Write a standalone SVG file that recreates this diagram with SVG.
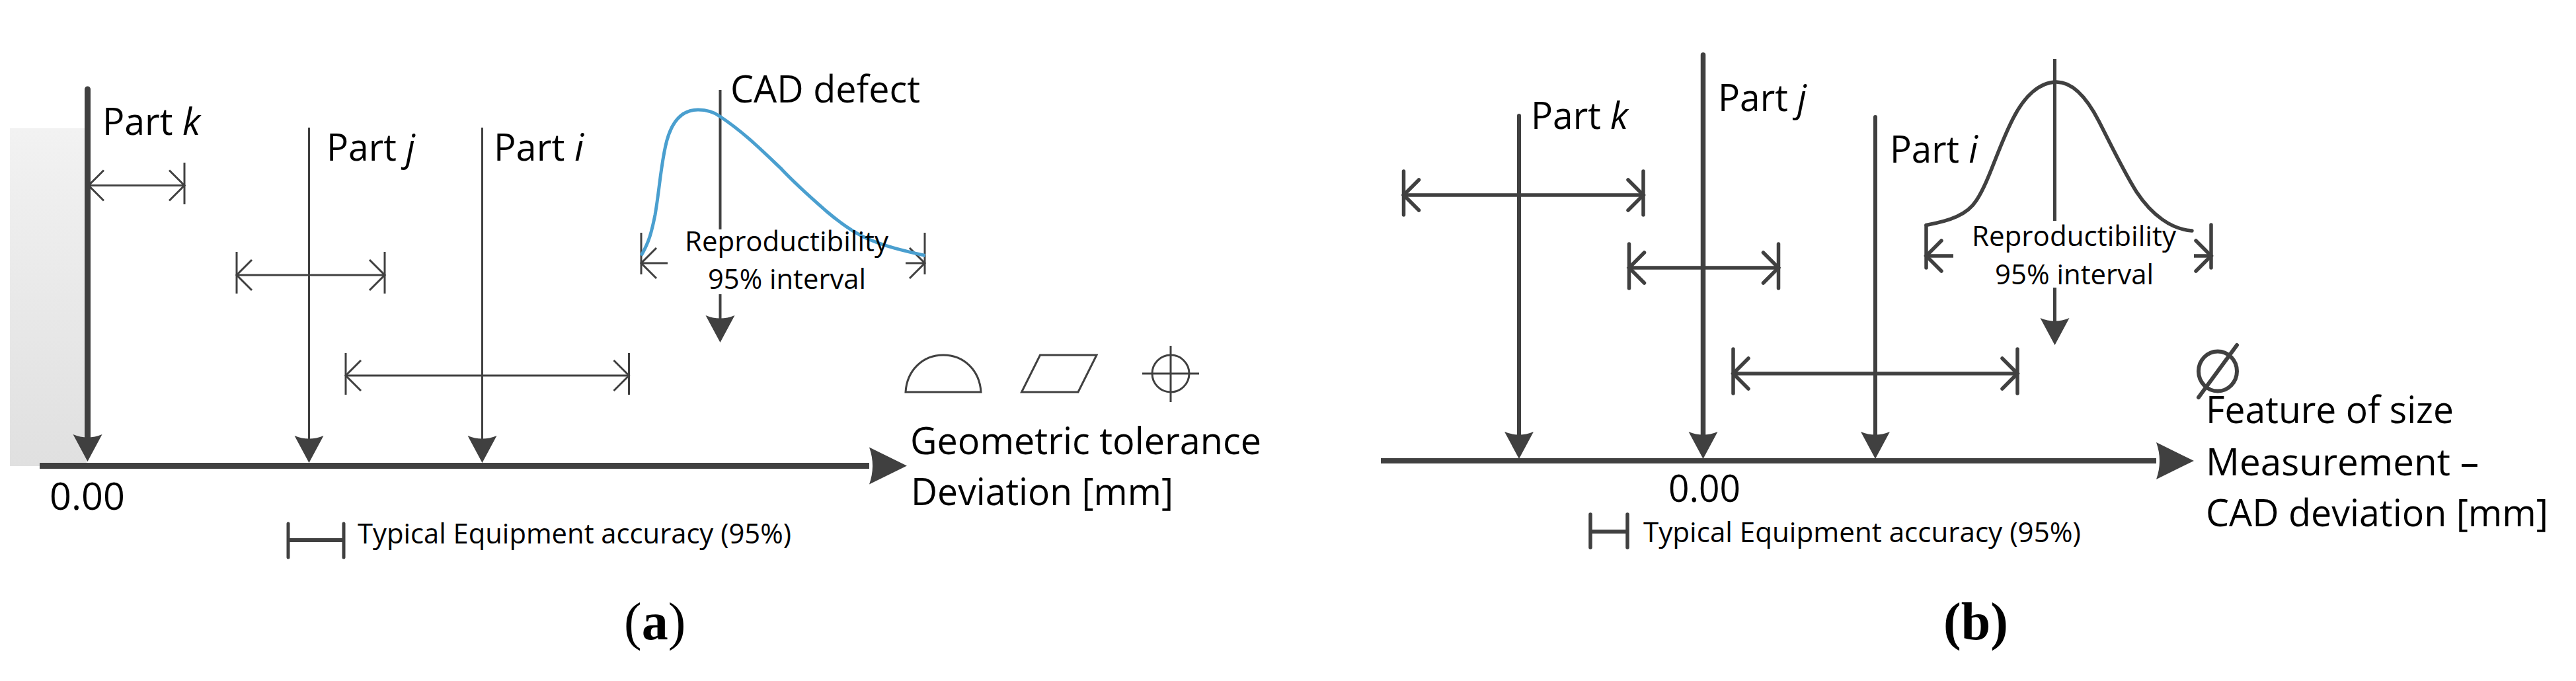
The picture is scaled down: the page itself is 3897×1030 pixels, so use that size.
<svg xmlns="http://www.w3.org/2000/svg" width="3897" height="1030" viewBox="0 0 3897 1030">
<defs>
<linearGradient id="shade" x1="0" y1="0" x2="0" y2="1"><stop offset="0" stop-color="#f2f2f2"/><stop offset="1" stop-color="#e0e0e0"/></linearGradient>
<marker id="head" markerUnits="userSpaceOnUse" markerWidth="60" markerHeight="60" refX="20" refY="30" orient="auto" overflow="visible"><path d="M40,30 L-1,8 Q8,30 -1,52 Z" fill="#404040"/></marker>
<marker id="headBig" markerUnits="userSpaceOnUse" markerWidth="80" markerHeight="80" refX="20" refY="40" orient="auto" overflow="visible"><path d="M77,40 L20,12 Q30,40 20,68 Z" fill="#404040"/></marker>
<marker id="open" markerUnits="userSpaceOnUse" markerWidth="60" markerHeight="60" refX="30" refY="30" orient="auto-start-reverse" overflow="visible"><path d="M7,7 L30,30 L7,53" fill="none" stroke="#404040" stroke-width="3"/></marker>
<marker id="openB" markerUnits="userSpaceOnUse" markerWidth="60" markerHeight="60" refX="30" refY="30" orient="auto-start-reverse" overflow="visible"><path d="M7,7 L30,30 L7,53" fill="none" stroke="#404040" stroke-width="5.5" stroke-linecap="round"/></marker>
</defs>
<style>
text{font-family:"Open Sans","Noto Sans",sans-serif;fill:#000}
.l{font-size:56px}.s{font-size:42px}
.cap{font-family:"Liberation Serif",serif;font-size:80px}
.b{font-weight:bold}
line{stroke:#404040;fill:none}
.sym{stroke:#404040;fill:none;stroke-width:3}
.t{stroke-width:3}.tb{stroke-width:5.5;stroke-linecap:round}
.d{stroke-width:3;marker-start:url(#open);marker-end:url(#open)}
.db{stroke-width:5.5;marker-start:url(#openB);marker-end:url(#openB)}
</style>

<g id="panel-a">
<rect id="limit-zone" x="15" y="194" width="116" height="511" fill="url(#shade)"/>
<g id="a-connectors">
<line x1="60" y1="704.5" x2="1315" y2="704.5" stroke-width="9" marker-end="url(#headBig)"/>
<line x1="132.5" y1="135" x2="132.5" y2="678" stroke-width="9" stroke-linecap="round" marker-end="url(#head)"/>
<line x1="467.5" y1="193" x2="467.5" y2="680" stroke-width="3" marker-end="url(#head)"/>
<line x1="729.5" y1="193" x2="729.5" y2="680" stroke-width="3" marker-end="url(#head)"/>
<line x1="1089.5" y1="136" x2="1089.5" y2="347" stroke-width="4"/>
<line x1="1089.5" y1="445" x2="1089.5" y2="498" stroke-width="4" marker-end="url(#head)"/>
<line class="d" x1="134" y1="280.5" x2="279" y2="280.5"/><line class="t" x1="279" y1="246" x2="279" y2="309"/>
<line class="d" x1="358" y1="416" x2="582" y2="416"/><line class="t" x1="358" y1="381" x2="358" y2="444"/><line class="t" x1="582" y1="381" x2="582" y2="444"/>
<line class="d" x1="523" y1="568" x2="951.5" y2="568"/><line class="t" x1="523" y1="534" x2="523" y2="597"/><line class="t" x1="951.5" y1="534" x2="951.5" y2="597"/>
<line class="t" x1="970" y1="398" x2="1010" y2="398" marker-start="url(#open)"/><line class="t" x1="970" y1="352" x2="970" y2="415"/>
<line class="t" x1="1370" y1="398" x2="1399" y2="398" marker-end="url(#open)"/><line class="t" x1="1399" y1="352" x2="1399" y2="415"/>
<line x1="436" y1="792" x2="436" y2="843" stroke-width="5" stroke-linecap="round"/><line x1="520" y1="792" x2="520" y2="843" stroke-width="5" stroke-linecap="round"/><line x1="436" y1="817" x2="520" y2="817" stroke-width="6"/>
</g>
<path id="a-curve" d="M970,386.5 C982,366 986,350 991,325 C998,285 1000,245 1008.7,213 C1016,186 1030,166 1056,166 C1070,166 1081,170 1089,176 C1125,200 1150,225 1180.6,254 C1205,280 1228,300 1250.8,320 C1272,338 1290,350 1307,358.5 C1335,372 1370,380 1399.5,386.5" fill="none" stroke="#4a9fcf" stroke-width="5"/>
<g id="a-symbols">
<path class="sym" d="M1370,593 C1372,560 1396,537 1427,537 C1458,537 1482,560 1484,593 Z"/>
<path class="sym" d="M1573.5,537 L1659,537 L1631,593 L1545.5,593 Z"/>
<ellipse class="sym" cx="1771" cy="565" rx="28" ry="28"/><line class="t" x1="1728" y1="565" x2="1814" y2="565"/><line class="t" x1="1771" y1="523" x2="1771" y2="608"/>
</g>
<g id="a-labels">
<text class="l" x="155" y="204" textLength="148" lengthAdjust="spacingAndGlyphs">Part <tspan font-style="italic">k</tspan></text>
<text class="l" x="494" y="243" textLength="134" lengthAdjust="spacingAndGlyphs">Part <tspan font-style="italic">j</tspan></text>
<text class="l" x="747" y="243" textLength="136" lengthAdjust="spacingAndGlyphs">Part <tspan font-style="italic">i</tspan></text>
<text class="l" x="1105" y="155" textLength="287" lengthAdjust="spacingAndGlyphs">CAD defect</text>
<text class="s" x="1036" y="380" textLength="308" lengthAdjust="spacingAndGlyphs">Reproductibility</text>
<text class="s" x="1071" y="437" textLength="239" lengthAdjust="spacingAndGlyphs">95% interval</text>
<text class="l" x="1377" y="687" textLength="531" lengthAdjust="spacingAndGlyphs">Geometric tolerance</text>
<text class="l" x="1378" y="764" textLength="397" lengthAdjust="spacingAndGlyphs">Deviation [mm]</text>
<text class="l" x="75" y="771" textLength="114" lengthAdjust="spacingAndGlyphs">0.00</text>
<text class="s" x="541" y="822" textLength="656" lengthAdjust="spacingAndGlyphs">Typical Equipment accuracy (95%)</text>
<text class="cap" x="944" y="967">(<tspan class="b">a</tspan>)</text>
</g>
</g>

<g id="panel-b">
<g id="b-connectors">
<line x1="2089" y1="697" x2="3262" y2="697" stroke-width="8" marker-end="url(#headBig)"/>
<line x1="2298" y1="175" x2="2298" y2="674" stroke-width="6" stroke-linecap="round" marker-end="url(#head)"/>
<line x1="2576.5" y1="83" x2="2576.5" y2="674" stroke-width="7.5" stroke-linecap="round" marker-end="url(#head)"/>
<line x1="2837" y1="177" x2="2837" y2="674" stroke-width="6" stroke-linecap="round" marker-end="url(#head)"/>
<line x1="3108.5" y1="89" x2="3108.5" y2="334" stroke-width="5"/>
<line x1="3108.5" y1="435" x2="3108.5" y2="502" stroke-width="5" marker-end="url(#head)"/>
<line class="db" x1="2123.5" y1="295" x2="2486" y2="295"/><line class="tb" x1="2123.5" y1="259" x2="2123.5" y2="325"/><line class="tb" x1="2486" y1="259" x2="2486" y2="325"/>
<line class="db" x1="2464.5" y1="405" x2="2690.5" y2="405"/><line class="tb" x1="2464.5" y1="369" x2="2464.5" y2="436"/><line class="tb" x1="2690.5" y1="369" x2="2690.5" y2="436"/>
<line class="db" x1="2622" y1="565" x2="3052" y2="565"/><line class="tb" x1="2622" y1="528" x2="2622" y2="595"/><line class="tb" x1="3052" y1="528" x2="3052" y2="595"/>
<line x1="2914" y1="387" x2="2955" y2="387" stroke-width="5.5" marker-start="url(#openB)"/><line class="tb" x1="2914" y1="341" x2="2914" y2="405"/>
<line x1="3319" y1="387" x2="3345" y2="387" stroke-width="5.5" marker-end="url(#openB)"/><line class="tb" x1="3345" y1="340" x2="3345" y2="405"/>
<line x1="2406" y1="778" x2="2406" y2="828" stroke-width="5.5" stroke-linecap="round"/><line x1="2462" y1="778" x2="2462" y2="828" stroke-width="5.5" stroke-linecap="round"/><line x1="2406" y1="804" x2="2462" y2="804" stroke-width="6"/>
</g>
<path id="b-curve" d="M2914,340.5 C2950,334 2976,325 2990,303 C3010,272 3022,225 3045,180 C3062,146 3085,124 3111,124 C3137,124 3158,150 3175,183 C3195,222 3212,258 3232,290 C3255,325 3285,347 3316,349" fill="none" stroke="#404040" stroke-width="5.5" stroke-linecap="round"/>
<g id="b-symbol">
<ellipse cx="3355" cy="561.5" rx="29" ry="30" fill="none" stroke="#404040" stroke-width="6"/>
<line x1="3384" y1="522" x2="3326" y2="601" stroke-width="6" stroke-linecap="round"/>
</g>
<g id="b-labels">
<text class="l" x="2316" y="195" textLength="147" lengthAdjust="spacingAndGlyphs">Part <tspan font-style="italic">k</tspan></text>
<text class="l" x="2599" y="168" textLength="134" lengthAdjust="spacingAndGlyphs">Part <tspan font-style="italic">j</tspan></text>
<text class="l" x="2859" y="246" textLength="133" lengthAdjust="spacingAndGlyphs">Part <tspan font-style="italic">i</tspan></text>
<text class="s" x="2983" y="372" textLength="309" lengthAdjust="spacingAndGlyphs">Reproductibility</text>
<text class="s" x="3018" y="430" textLength="240" lengthAdjust="spacingAndGlyphs">95% interval</text>
<text class="l" x="3337" y="640" textLength="375" lengthAdjust="spacingAndGlyphs">Feature of size</text>
<text class="l" x="3337" y="719" textLength="413" lengthAdjust="spacingAndGlyphs">Measurement –</text>
<text class="l" x="3337" y="796" textLength="518" lengthAdjust="spacingAndGlyphs">CAD deviation [mm]</text>
<text class="l" x="2524" y="759" textLength="109" lengthAdjust="spacingAndGlyphs">0.00</text>
<text class="s" x="2486" y="820" textLength="662" lengthAdjust="spacingAndGlyphs">Typical Equipment accuracy (95%)</text>
<text class="cap b" x="2940" y="967">(b)</text>
</g>
</g>
</svg>
